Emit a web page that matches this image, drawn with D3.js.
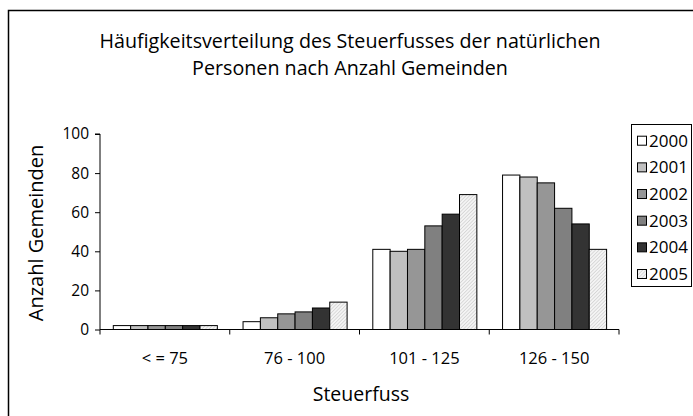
<!DOCTYPE html>
<html>
<head>
<meta charset="utf-8">
<script src="https://cdn.jsdelivr.net/npm/d3@7"></script>
<style>
  html, body { margin: 0; padding: 0; background: #fff; }
  svg { display: block; }
  text { font-family: "Open Sans", sans-serif; fill: #000; }
</style>
</head>
<body>
<svg id="chart" width="693" height="416"></svg>
<script>
const categories = ["< = 75", "76 - 100", "101 - 125", "126 - 150"];
const years = ["2000", "2001", "2002", "2003", "2004", "2005"];
const v2000 = [2, 4, 41, 79];
const v2001 = [2, 6, 40, 78];
const v2002 = [2, 8, 41, 75];
const v2003 = [2, 9, 53, 62];
const v2004 = [2, 11, 59, 54];
const v2005 = [2, 14, 69, 41];
const yTicks = [0, 20, 40, 60, 80, 100];
const titleLines = ["Häufigkeitsverteilung des Steuerfusses der natürlichen", "Personen nach Anzahl Gemeinden"];
const xTitle = "Steuerfuss";
const yTitle = "Anzahl Gemeinden";

const seriesValues = [v2000, v2001, v2002, v2003, v2004, v2005];
const fills = ["#ffffff", "#c0c0c0", "#969696", "#808080", "#333333", "url(#hatch)"];

const svg = d3.select("#chart");
const defs = svg.append("defs");
const pat = defs.append("pattern").attr("id", "hatch").attr("patternUnits", "userSpaceOnUse")
  .attr("width", 2.5).attr("height", 2.5).attr("patternTransform", "rotate(45)");
pat.append("rect").attr("width", 2.5).attr("height", 2.5).attr("fill", "#f4f4f4");
pat.append("line").attr("x1", 0).attr("y1", 0).attr("x2", 0).attr("y2", 2.5)
  .attr("stroke", "#b4b4b4").attr("stroke-width", 0.8);

// outer frame
svg.append("rect").attr("x", 8.5).attr("y", 10.5).attr("width", 700).attr("height", 420)
  .attr("fill", "none").attr("stroke", "#000").attr("stroke-width", 1.5);

const plot = { left: 100, right: 619, top: 134, bottom: 329.5 };

const x = d3.scaleBand().domain(categories).range([plot.left, plot.right]).paddingInner(0).paddingOuter(0);
const xs = d3.scaleBand().domain(years).range([13.3, x.bandwidth() - 12.4]).padding(0);
const y = d3.scaleLinear().domain([0, 100]).range([plot.bottom, plot.top]);

// bars
const g = svg.append("g");
years.forEach((yr, si) => {
  g.selectAll(null).data(seriesValues[si]).enter().append("rect")
    .attr("x", (d, i) => x(categories[i]) + xs(yr))
    .attr("y", d => y(d))
    .attr("width", xs.bandwidth())
    .attr("height", d => y(0) - y(d))
    .attr("fill", fills[si])
    .attr("stroke", "#000").attr("stroke-width", 1);
});

// y axis
const yAxis = d3.axisLeft(y).tickValues(yTicks).tickSize(5).tickPadding(6).tickFormat(d3.format("d"));
const ya = svg.append("g").attr("transform", `translate(${plot.left},0)`).call(yAxis);
ya.select(".domain").attr("stroke", "#000").attr("d", `M-5,${plot.top}H0V${plot.bottom}`);
ya.selectAll("line").attr("stroke", "#000");
ya.selectAll("text").style("font-family", "'Open Sans', sans-serif").style("font-size", "15.5px").attr("fill", "#000");

// x axis
const xa = svg.append("g").attr("transform", `translate(0,${plot.bottom})`);
xa.append("line").attr("x1", plot.left).attr("x2", plot.right).attr("stroke", "#000");
const bounds = categories.map(c => x(c)).concat([plot.right]);
xa.selectAll(".tk").data(bounds).enter().append("line")
  .attr("x1", d => d).attr("x2", d => d).attr("y1", 0).attr("y2", 5).attr("stroke", "#000");
xa.selectAll(".lb").data(categories).enter().append("text")
  .attr("x", d => x(d) + x.bandwidth() / 2).attr("y", 34.5)
  .attr("text-anchor", "middle").style("font-size", "16.5px").text(d => d);

// titles
svg.selectAll(".title").data(titleLines).enter().append("text")
  .attr("x", 350).attr("y", (d, i) => 47.5 + i * 27)
  .attr("text-anchor", "middle").style("font-size", "19.7px").text(d => d);
svg.append("text").attr("x", 361).attr("y", 401).attr("text-anchor", "middle")
  .style("font-size", "19.5px").text(xTitle);
svg.append("text").attr("transform", "translate(43,233) rotate(-90)").attr("text-anchor", "middle")
  .style("font-size", "20px").text(yTitle);

// legend
const lg = svg.append("g");
lg.append("rect").attr("x", 631.5).attr("y", 124.5).attr("width", 60).attr("height", 162)
  .attr("fill", "#fff").attr("stroke", "#000").attr("stroke-width", 1);
const ly = d3.scalePoint().domain(years).range([140.7, 274]);
years.forEach((yr, si) => {
  lg.append("rect").attr("x", 637.5).attr("y", ly(yr) - 4.5).attr("width", 9).attr("height", 9)
    .attr("fill", fills[si]).attr("stroke", "#000").attr("stroke-width", 1);
  lg.append("text").attr("x", 649).attr("y", ly(yr) + 6).style("font-size", "17px").text(yr);
});
</script>
</body>
</html>
